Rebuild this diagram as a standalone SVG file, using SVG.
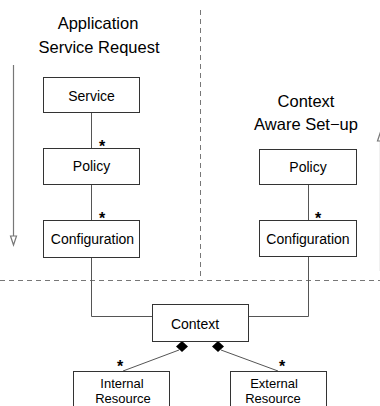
<svg xmlns="http://www.w3.org/2000/svg" width="380" height="406" viewBox="0 0 380 406">
<style>
text{font-family:"Liberation Sans",Arial,sans-serif;fill:#000}
.t{font-size:16.5px;text-anchor:middle}
.l{font-size:14px;text-anchor:middle}
.r{font-size:13px;text-anchor:middle}
.s{font-size:16px;font-weight:bold;text-anchor:middle}
.box{fill:#fff;stroke:#333;stroke-width:1}
.ln{fill:none;stroke:#555;stroke-width:1}
.dash{fill:none;stroke:#777;stroke-width:1;stroke-dasharray:5,4}
.arr{fill:none;stroke:#777;stroke-width:1.2}
</style>
<rect width="380" height="406" fill="#fff"/>
<g id="separators">
<line class="dash" x1="200.5" y1="10" x2="200.5" y2="280"/>
<line class="dash" x1="0" y1="280.5" x2="380" y2="280.5"/>
</g>
<g id="titles">
<text class="t" x="98" y="29">Application</text>
<text class="t" x="99" y="53">Service Request</text>
<text class="t" x="306" y="107">Context</text>
<text class="t" x="306" y="130">Aware Set−up</text>
</g>
<g id="flow-arrows">
<line class="arr" x1="13.5" y1="65" x2="13.5" y2="236"/>
<polygon points="10.5,236 16.5,236 13.5,245" fill="#fff" stroke="#777" stroke-width="1.2"/>
<line class="arr" x1="380.5" y1="141" x2="380.5" y2="271"/>
<polygon points="377.5,141 383.5,141 380.5,132" fill="#fff" stroke="#777" stroke-width="1.2"/>
</g>
<g id="connectors">
<line class="ln" x1="91.5" y1="112" x2="91.5" y2="148"/>
<line class="ln" x1="91.5" y1="184" x2="91.5" y2="220"/>
<polyline class="ln" points="91.5,257 91.5,316.5 152,316.5"/>
<line class="ln" x1="308.5" y1="184" x2="308.5" y2="220"/>
<polyline class="ln" points="308.5,256 308.5,316.5 248,316.5"/>
<line class="ln" x1="179" y1="350" x2="123" y2="371"/>
<line class="ln" x1="221" y1="350" x2="278" y2="371"/>
<polygon points="182,341 188,346.5 182,352 176,346.5" fill="#000"/>
<polygon points="218,341 224,346.5 218,352 212,346.5" fill="#000"/>
<text class="s" x="102" y="152">*</text>
<text class="s" x="102" y="224">*</text>
<text class="s" x="318" y="224">*</text>
<text class="s" x="120" y="372">*</text>
<text class="s" x="282" y="372">*</text>
</g>
<g id="service">
<rect class="box" x="43.5" y="77.5" width="96" height="35"/>
<text class="l" x="91.5" y="100.5">Service</text>
</g>
<g id="policy-left">
<rect class="box" x="43.5" y="148.5" width="96" height="36"/>
<text class="l" x="91.5" y="171">Policy</text>
</g>
<g id="configuration-left">
<rect class="box" x="43.5" y="220.5" width="96" height="37"/>
<text class="l" x="92.5" y="244">Configuration</text>
</g>
<g id="policy-right">
<rect class="box" x="259.5" y="149.5" width="97" height="35"/>
<text class="l" x="308" y="172">Policy</text>
</g>
<g id="configuration-right">
<rect class="box" x="259.5" y="220.5" width="97" height="36"/>
<text class="l" x="308" y="243.5">Configuration</text>
</g>
<g id="context">
<rect class="box" x="152.5" y="304.5" width="96" height="37"/>
<text class="l" x="195" y="328.5">Context</text>
</g>
<g id="internal-resource">
<rect class="box" x="73.5" y="371.5" width="96" height="45"/>
<text class="r" x="122" y="387.5">Internal</text>
<text class="r" x="123" y="402.5">Resource</text>
</g>
<g id="external-resource">
<rect class="box" x="230.5" y="371.5" width="96" height="45"/>
<text class="r" x="274" y="387.5">External</text>
<text class="r" x="273" y="402.5">Resource</text>
</g>
</svg>
